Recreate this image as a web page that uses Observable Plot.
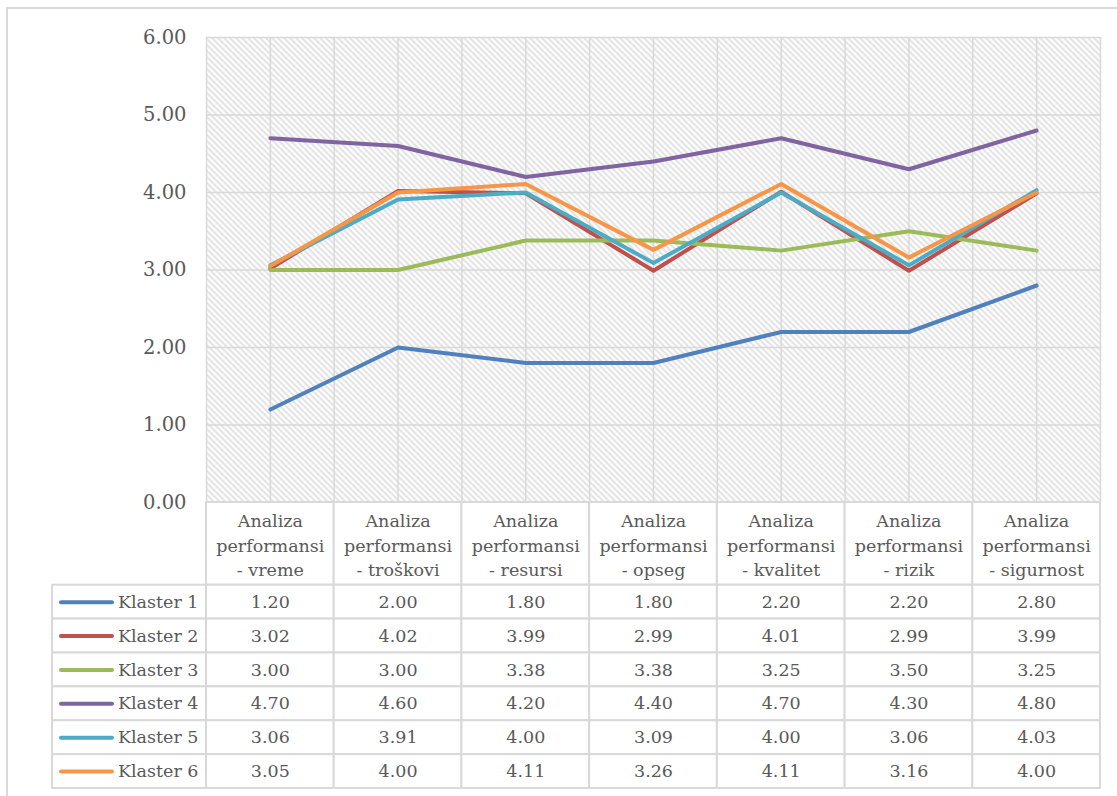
<!DOCTYPE html>
<html>
<head>
<meta charset="utf-8">
<script src="https://cdn.jsdelivr.net/npm/d3@7"></script>
<script src="https://cdn.jsdelivr.net/npm/@observablehq/plot@0.6"></script>
<style>
  html, body { margin: 0; padding: 0; background: #fff; overflow: hidden; }
  #wrap { position: relative; width: 1117px; height: 796px; overflow: hidden; font-family: "DejaVu Serif", serif; }
  #frame { position: absolute; left: 6px; top: 7px; width: 1130px; height: 810px; border: 2px solid #d9d9d9; box-sizing: border-box; }
  #chart, #table { position: absolute; left: 0; }
  #chart { top: 0; }
  #table { top: 501px; }
</style>
</head>
<body>
<div id="wrap">
  <div id="frame"></div>
  <div id="chart"></div>
  <div id="table"></div>
</div>
<script>
const categories = [
  "Analiza performansi - vreme",
  "Analiza performansi - troškovi",
  "Analiza performansi - resursi",
  "Analiza performansi - opseg",
  "Analiza performansi - kvalitet",
  "Analiza performansi - rizik",
  "Analiza performansi - sigurnost"
];
const series = ["Klaster 1", "Klaster 2", "Klaster 3", "Klaster 4", "Klaster 5", "Klaster 6"];
const klaster1 = [1.20, 2.00, 1.80, 1.80, 2.20, 2.20, 2.80];
const klaster2 = [3.02, 4.02, 3.99, 2.99, 4.01, 2.99, 3.99];
const klaster3 = [3.00, 3.00, 3.38, 3.38, 3.25, 3.50, 3.25];
const klaster4 = [4.70, 4.60, 4.20, 4.40, 4.70, 4.30, 4.80];
const klaster5 = [3.06, 3.91, 4.00, 3.09, 4.00, 3.06, 4.03];
const klaster6 = [3.05, 4.00, 4.11, 3.26, 4.11, 3.16, 4.00];
const colors = ["#4F81BD", "#C0504D", "#9BBB59", "#8064A2", "#4BACC6", "#F79646"];
const yTicks = [0, 1, 2, 3, 4, 5, 6];

const values = [klaster1, klaster2, klaster3, klaster4, klaster5, klaster6];
const data = series.flatMap((s, j) => values[j].map((v, i) => ({series: s, row: j, col: i, category: categories[i], value: v})));

const textColor = "#595959";
const gridColor = "#d9d9d9";
const fontFamily = "DejaVu Serif, serif";

// ---------- Chart ----------
const chart = Plot.plot({
  width: 1117,
  height: 516,
  marginTop: 37,
  marginBottom: 14,
  marginLeft: 206,
  marginRight: 17,
  style: {fontFamily, fontSize: "19.5px", color: textColor, background: "transparent", overflow: "visible"},
  x: {domain: [0, categories.length], axis: null},
  y: {domain: [0, 6], ticks: yTicks, tickFormat: d => d.toFixed(2), tickSize: 0, tickPadding: 20, label: null},
  color: {domain: series, range: colors},
  marks: [
    Plot.frame({fill: "url(#hatch)", stroke: null}),
    Plot.ruleY(yTicks, {stroke: gridColor, strokeWidth: 1.5}),
    Plot.ruleX(d3.range(0, categories.length + 0.01, 0.5), {stroke: gridColor, strokeWidth: 1.5}),
    Plot.line(data, {
      x: d => d.col + 0.5, y: "value", z: "series", stroke: "series",
      strokeWidth: 4, strokeLinecap: "round", strokeLinejoin: "round"
    })
  ]
});
d3.select(chart).insert("defs", ":first-child").html(
  `<pattern id="hatch" patternUnits="userSpaceOnUse" width="6" height="6">
     <rect width="6" height="6" fill="#ffffff"/>
     <path d="M-1,-1 L7,7 M-1,5 L1,7 M5,-1 L7,1" stroke="#dcdcdc" stroke-width="1.6"/>
   </pattern>`
);
document.getElementById("chart").appendChild(chart);

// ---------- Data table ----------
const colPx = (1117 - 206 - 17) / categories.length;
const legendLeft = -(206 - 52) / colPx;
const swatchX1 = -(206 - 61) / colPx;
const swatchX2 = -(206 - 112) / colPx;
const headerRows = 83 / 34;

const table = Plot.plot({
  width: 1117,
  height: 295,
  marginTop: 1,
  marginBottom: 8,
  marginLeft: 206,
  marginRight: 17,
  style: {fontFamily, fontSize: "18px", color: textColor, background: "transparent", overflow: "visible"},
  x: {domain: [0, categories.length], axis: null},
  y: {domain: [series.length, -headerRows], axis: null},
  color: {domain: series, range: colors},
  marks: [
    Plot.rect(categories, {x1: (d, i) => i, x2: (d, i) => i + 1, y1: () => -headerRows, y2: () => 0,
      fill: "white", stroke: gridColor, strokeWidth: 2}),
    Plot.rect(data, {x1: "col", x2: d => d.col + 1, y1: "row", y2: d => d.row + 1,
      fill: "white", stroke: gridColor, strokeWidth: 2}),
    Plot.rect(series, {x1: () => legendLeft, x2: () => 0, y1: (d, j) => j, y2: (d, j) => j + 1,
      fill: "white", stroke: gridColor, strokeWidth: 2}),
    Plot.text(categories, {
      x: (d, i) => i + 0.5, y: () => -headerRows / 2,
      text: d => d.replace(" performansi ", "\nperformansi\n"),
      lineHeight: 1.4, fontSize: 17.5, fill: textColor
    }),
    Plot.text(data, {x: d => d.col + 0.5, y: d => d.row + 0.5, text: d => d.value.toFixed(2),
      fontSize: 17.5, fill: textColor}),
    Plot.ruleY(series, {y: (d, j) => j + 0.5, x1: () => swatchX1, x2: () => swatchX2,
      stroke: d => d, strokeWidth: 4, strokeLinecap: "round"}),
    Plot.text(series, {x: () => 0, dx: -8, y: (d, j) => j + 0.5, text: d => d, textAnchor: "end",
      fontSize: 17.5, fill: textColor})
  ]
});
document.getElementById("table").appendChild(table);
</script>
</body>
</html>
